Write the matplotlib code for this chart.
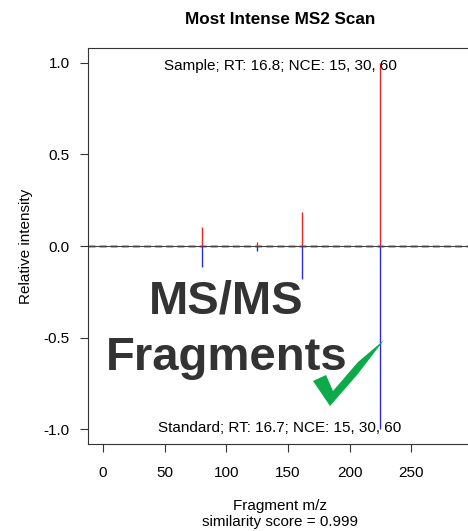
import matplotlib.pyplot as plt
from matplotlib.patches import Polygon

plt.rcParams['font.family'] = ['Liberation Sans', 'DejaVu Sans']

# fragment peaks (m/z, relative intensity)
mz = [80, 125, 161, 225]
sample_int = [0.105, 0.024, 0.187, 1.0]
standard_int = [-0.117, -0.027, -0.181, -1.0]

x_ticks = [0, 50, 100, 150, 200, 250]
y_ticks = [-1.0, -0.5, 0.0, 0.5, 1.0]

sample_label = 'Sample; RT: 16.8; NCE: 15, 30, 60'
standard_label = 'Standard; RT: 16.7; NCE: 15, 30, 60'

W, H = 468, 531
fig = plt.figure(figsize=(W / 100, H / 100), dpi=100)

# axes box runs a little past the right edge of the picture
ax = fig.add_axes([88 / W, 1 - 444 / H, (472 - 88) / W, (444 - 48) / H])
ax.set_xlim(-12.2, 299.3)
ax.set_ylim(-1.08, 1.08)

ax.vlines(mz, 0, sample_int, color='#e8262a', lw=1)
ax.vlines(mz, 0, standard_int, color='#2b2bd6', lw=1)
ax.axhline(0, color='#444444', lw=0.8, zorder=1)
ax.axhline(0, color='#999999', lw=2, ls=(0, (2.5, 1.5)), alpha=0.8, zorder=0)

ax.text(143.5, 0.982, sample_label, ha='center', va='center', fontsize=11)
ax.text(143.5, -0.99, standard_label, ha='center', va='center', fontsize=11)

ax.set_xticks(x_ticks)
ax.set_yticks(y_ticks)
ax.set_yticklabels(['%.1f' % v for v in y_ticks])
ax.tick_params(direction='out', length=6, width=0.8, labelsize=11, pad=7, color='#333333')
ax.tick_params(axis='x', pad=10)
for s in ax.spines.values():
    s.set_linewidth(0.8)
    s.set_color('#333333')

ax.set_ylabel('Relative intensity', fontsize=11, labelpad=8)
ax.set_title('Most Intense MS2 Scan', fontsize=12.3, fontweight='bold', pad=17)
fig.text(280 / W, 1 - 506 / H, 'Fragment m/z', ha='center', va='center', fontsize=11)
fig.text(280 / W, 1 - 522 / H, 'similarity score = 0.999', ha='center', va='center',
         fontsize=11)

# overlay annotation
fig.text(226.5 / W, 1 - 313 / H, 'MS/MS', ha='center', va='baseline', fontsize=34,
         fontweight='bold', color='#333333')
fig.text(226.5 / W, 1 - 370 / H, 'Fragments', ha='center', va='baseline', fontsize=34,
         fontweight='bold', color='#333333')

check = [(313, 381), (326, 375), (333, 391), (358, 362), (384, 340),
         (357, 375), (330, 406)]
fig.add_artist(Polygon([(x / W, 1 - y / H) for x, y in check], closed=True,
                       transform=fig.transFigure, facecolor='#0aab48', edgecolor='none'))

fig.savefig('out.png', dpi=100)
